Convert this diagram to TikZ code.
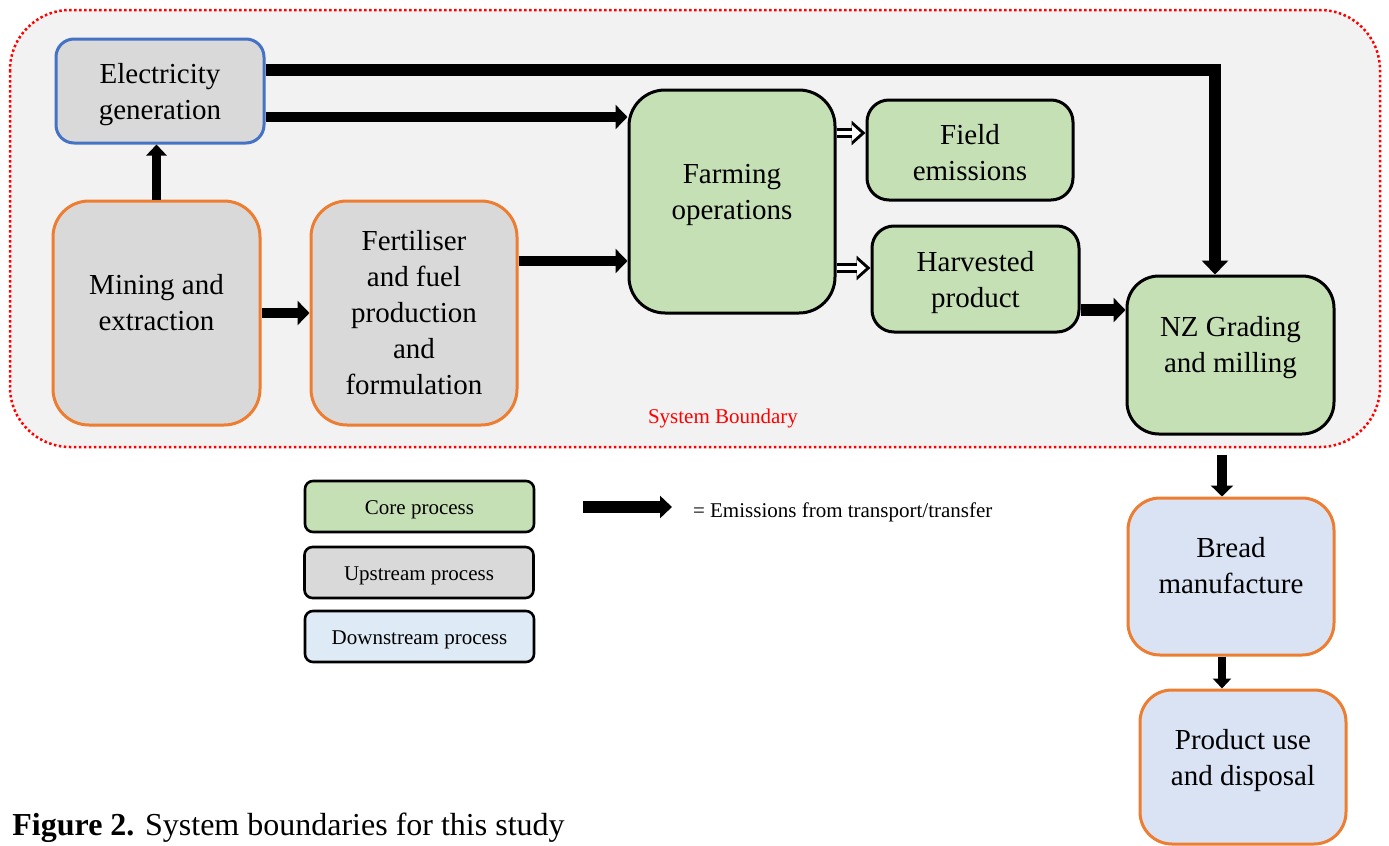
\documentclass[tikz,border=0pt]{standalone}
\usepackage{fontspec}
\setmainfont{Liberation Serif}
\usetikzlibrary{arrows.meta,calc}

\definecolor{coregreen}{HTML}{C5E0B4}
\definecolor{upgray}{HTML}{D9D9D9}
\definecolor{downblue}{HTML}{DAE3F3}
\definecolor{keyblue}{HTML}{DEEBF7}
\definecolor{elecblue}{HTML}{4472C4}
\definecolor{procorange}{HTML}{ED7D31}
\definecolor{boundgray}{HTML}{F2F2F2}

\begin{document}
\begin{tikzpicture}[x=0.5pt,y=-0.5pt,
    every node/.style={font=\fontsize{14.5}{18}\selectfont, align=center},
    proc/.style={draw, line width=1.5pt, inner sep=0pt},
    core/.style={proc, fill=coregreen, draw=black},
    upstream/.style={proc, fill=upgray, draw=procorange},
    downstream/.style={proc, fill=downblue, draw=procorange},
    keybox/.style={draw=black, line width=1.3pt, rounded corners=4pt, minimum width=114.5pt,
        minimum height=25.5pt, text height=10pt, text depth=2.3pt, font=\fontsize{10.5}{12}\selectfont},
    small/.style={font=\fontsize{10.5}{12}\selectfont},
    boxtext/.style 2 args={label={[yshift=#1]center:#2}},
    flow/.style={draw=black, line width=5pt, -{Triangle[length=6pt,width=12pt]}},
    hollow/.style={draw=white, line width=2.2pt, shorten >=2.3pt, -{Triangle[length=4.4pt,width=7.6pt]},
        preaction={draw=black, line width=5.2pt, shorten >=0pt, -{Triangle[length=7pt,width=12pt]}}}]

    \useasboundingbox (0,0) rectangle (1389,846);

    % system boundary
    \draw[red, fill=boundgray, line width=1.25pt, dash pattern=on 1.25pt off 1.25pt, rounded corners=30pt]
        (10,10) rectangle (1380,447);
    \node[red, small] (sbtext) at (723,418) {System Boundary};

    % upstream processes
    \node[upstream, draw=elecblue, rounded corners=9pt, minimum width=104pt, minimum height=52pt,
        boxtext={-2pt}{Electricity\\generation}] (elec) at (160,91) {};
    \node[upstream, rounded corners=18pt, minimum width=103.5pt, minimum height=112pt,
        boxtext={5pt}{Mining and\\extraction}] (mining) at (156.5,313) {};
    \node[upstream, rounded corners=18pt, minimum width=103pt, minimum height=112pt,
        boxtext={0pt}{Fertiliser\\and fuel\\production\\and\\formulation}] (fert) at (414,313) {};

    % core processes
    \node[core, rounded corners=18pt, minimum width=103pt, minimum height=111.5pt,
        boxtext={3.5pt}{Farming\\operations}] (farm) at (732,201.5) {};
    \node[core, rounded corners=11pt, minimum width=103pt, minimum height=50pt,
        boxtext={-1.25pt}{Field\\emissions}] (field) at (970,150) {};
    \node[core, rounded corners=11pt, minimum width=103.5pt, minimum height=53pt,
        boxtext={-1.75pt}{Harvested\\product}] (harv) at (975.5,279) {};
    \node[core, rounded corners=16pt, minimum width=103.5pt, minimum height=79pt,
        boxtext={3.5pt}{NZ Grading\\and milling}] (nz) at (1230.5,355) {};

    % downstream processes
    \node[downstream, rounded corners=16pt, minimum width=103pt, minimum height=78.5pt,
        boxtext={5.5pt}{Bread\\manufacture}] (bread) at (1231,576.5) {};
    \node[downstream, rounded corners=16pt, minimum width=103pt, minimum height=77pt,
        boxtext={3pt}{Product use\\and disposal}] (prod) at (1243,767) {};

    % arrow points
    \coordinate (elecA) at ($(elec.east)+(0,-21)$);
    \coordinate (elecB) at ($(elec.east)+(0,26)$);
    \coordinate (fertA) at ($(fert.east)+(0,-52)$);
    \coordinate (farmA) at ($(field.west)+(0,-17)$);
    \coordinate (farmB) at ($(harv.west)+(0,-11)$);
    \coordinate (harvA) at ($(harv.east)+(0,31)$);
    \coordinate (nzA) at ($(nz.north)+(-15.5,0)$);
    \coordinate (nzB) at ($(nz.south)+(-8.5,19)$);
    \coordinate (breadA) at ($(bread.south)+(-9,0)$);

    % transport / transfer
    \draw[flow, line width=6pt, line join=miter, -{Triangle[length=7pt,width=13pt]}] (elecA) -| (nzA);
    \draw[flow] (elecB) -- (elecB -| farm.west);
    \draw[flow, line width=4.5pt, -{Triangle[length=5.5pt,width=10pt]}] (mining.north) -- (mining.north |- elec.south);
    \draw[flow] (mining.east) -- (fert.west);
    \draw[flow] (fertA) -- (fertA -| farm.west);
    \draw[flow, line width=6pt] (harvA) -- (harvA -| nz.west);
    \draw[flow, -{Triangle[length=5.5pt,width=11pt]}] (nzB) -- (nzB |- bread.north);
    \draw[flow, line width=4pt, -{Triangle[length=5pt,width=9pt]}] (breadA) -- (breadA |- prod.north);

    % outputs of farming
    \draw[hollow] (farmA -| farm.east) -- (farmA);
    \draw[hollow] (farmB -| farm.east) -- (farmB);

    % key
    \node[keybox, fill=coregreen] (keycore) at (419.5,506.5) {Core process};
    \node[keybox, fill=upgray] (keyup) at (419,572.5) {Upstream process};
    \node[keybox, fill=keyblue] (keydown) at (419.5,636.5) {Downstream process};
    \coordinate (keyA) at (583,507);
    \coordinate (keyB) at (672,507);
    \draw[flow, line width=6pt, -{Triangle[length=6pt,width=11pt]}] (keyA) -- (keyB);
    \node[small, anchor=west] (keytext) at (686,512) {= Emissions from transport/transfer};

    \node[anchor=base west, inner sep=0pt, font=\fontsize{16}{19}\selectfont] (caption) at (12,835)
        {\textbf{Figure 2.} System boundaries for this study};
\end{tikzpicture}
\end{document}
